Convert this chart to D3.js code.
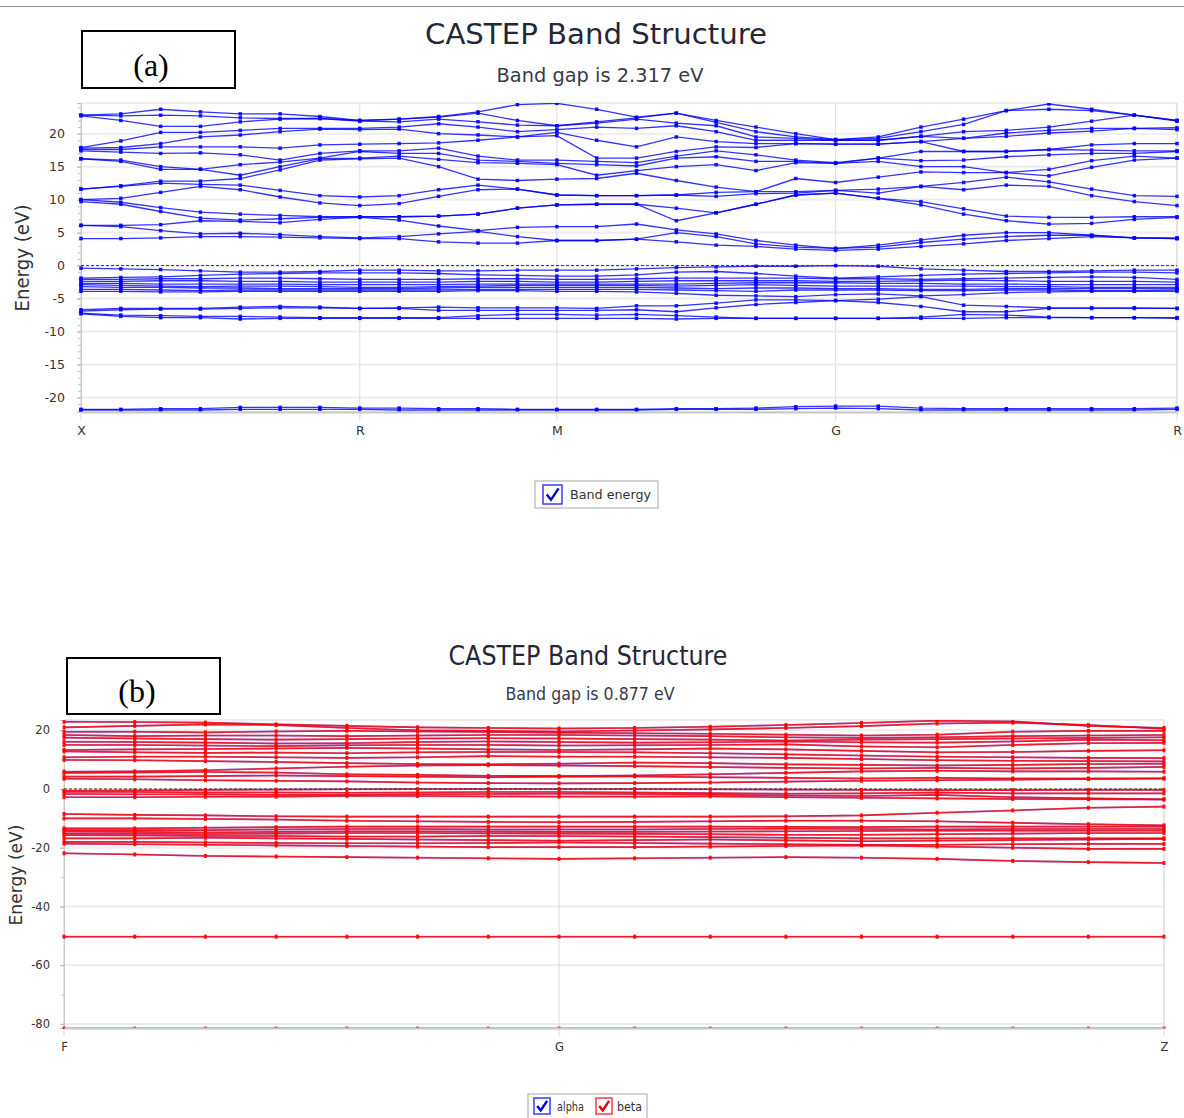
<!DOCTYPE html>
<html>
<head>
<meta charset="utf-8">
<script src="https://cdn.jsdelivr.net/npm/d3@7"></script>
<style>
  body { margin: 0; background: #fff; }
  svg { display: block; font-family: 'DejaVu Sans', sans-serif; }
</style>
</head>
<body>
<svg id="chart" width="1184" height="1118"></svg>
<script>
// ---- panel (a): k-path X-R-M-G-R ----
const topLabels = ['X', 'R', 'M', 'G', 'R']
const topSegLengths = [0.7071, 0.5, 0.7071, 0.866]
const topSegSteps = [7, 5, 7, 8]
const topYTicks = [-20, -15, -10, -5, 0, 5, 10, 15, 20]

// conduction bands, one row per k-point (sorted energies, eV)
const topConductionByK = [
  [4.1, 6.1, 6.1, 9.7, 10.0, 10.0, 11.6, 11.6, 16.2, 16.2, 17.4, 17.6, 17.8, 17.9, 22.7, 22.8, 22.8],
  [4.1, 5.9, 6.1, 9.3, 9.6, 10.2, 12.0, 12.1, 15.8, 16.0, 17.2, 17.6, 17.9, 18.9, 22.0, 22.7, 23.0],
  [4.2, 5.3, 6.2, 8.2, 8.8, 11.1, 12.5, 12.8, 14.6, 15.0, 17.0, 18.0, 18.5, 20.2, 21.1, 22.8, 23.7],
  [4.4, 4.8, 6.8, 7.2, 8.1, 12.0, 12.3, 12.8, 14.6, 14.6, 17.1, 18.0, 19.5, 20.2, 21.1, 22.7, 23.3],
  [4.4, 4.9, 6.7, 6.9, 7.8, 11.5, 12.2, 13.2, 13.7, 15.3, 16.8, 18.0, 19.8, 20.5, 21.8, 22.4, 23.0],
  [4.3, 4.7, 6.5, 7.1, 7.6, 10.4, 11.4, 14.5, 15.0, 15.7, 16.0, 17.8, 20.3, 20.8, 22.2, 22.3, 23.0],
  [4.2, 4.4, 7.0, 7.3, 7.4, 9.5, 10.6, 16.0, 16.2, 16.3, 17.0, 18.3, 20.7, 20.8, 22.3, 22.3, 22.6],
  [4.1, 4.2, 7.3, 7.4, 7.4, 9.1, 10.4, 16.2, 16.3, 17.3, 17.4, 18.4, 20.6, 20.8, 21.9, 22.0, 22.0],
  [4.1, 4.4, 6.9, 7.4, 7.4, 9.4, 10.6, 16.3, 16.6, 17.0, 17.4, 18.5, 20.7, 21.0, 21.8, 22.2, 22.2],
  [3.6, 4.8, 6.0, 7.5, 7.5, 10.5, 11.5, 15.0, 16.1, 17.0, 17.8, 18.6, 20.0, 21.5, 22.2, 22.5, 22.6],
  [3.4, 5.2, 5.3, 7.8, 7.8, 11.5, 12.2, 13.1, 15.6, 16.0, 16.6, 19.0, 19.8, 21.0, 21.8, 23.1, 23.3],
  [3.4, 4.4, 5.8, 8.7, 8.7, 11.6, 11.6, 12.9, 15.5, 15.8, 16.0, 19.5, 19.5, 20.3, 21.3, 22.0, 24.4],
  [3.8, 3.8, 5.9, 9.2, 9.2, 10.7, 10.7, 13.1, 15.3, 15.5, 16.0, 19.7, 20.2, 20.6, 21.2, 21.2, 24.6],
  [3.8, 3.8, 5.9, 9.3, 9.3, 10.6, 10.6, 13.2, 13.7, 15.3, 15.8, 16.3, 19.0, 21.0, 21.6, 21.8, 23.7],
  [4.0, 4.0, 6.3, 9.3, 9.3, 10.6, 10.6, 14.0, 14.4, 15.1, 15.6, 16.3, 18.0, 20.8, 22.2, 22.4, 22.5],
  [3.6, 5.0, 5.4, 6.8, 8.7, 10.7, 10.7, 12.9, 15.0, 16.3, 16.6, 17.3, 19.5, 21.2, 21.6, 23.1, 23.1],
  [3.1, 4.4, 4.8, 8.0, 8.0, 10.5, 11.1, 11.9, 15.3, 16.5, 17.4, 18.0, 18.8, 20.3, 21.2, 21.7, 22.0],
  [2.9, 3.3, 3.8, 9.3, 9.3, 10.9, 11.2, 11.2, 14.4, 15.8, 16.8, 17.9, 18.5, 19.0, 19.5, 20.3, 21.0],
  [2.5, 2.8, 3.1, 10.7, 10.7, 11.0, 11.2, 13.2, 15.6, 15.8, 16.0, 18.5, 18.5, 19.0, 19.3, 19.5, 20.0],
  [2.3, 2.6, 2.6, 11.0, 11.0, 11.4, 11.4, 12.6, 15.5, 15.5, 15.6, 18.4, 18.4, 19.0, 19.0, 19.1, 19.1],
  [2.5, 2.8, 3.1, 10.2, 10.2, 11.0, 11.6, 13.4, 15.8, 16.3, 16.3, 18.4, 18.4, 19.0, 19.0, 19.3, 19.5],
  [2.9, 3.5, 3.9, 9.2, 9.7, 12.0, 12.0, 14.2, 15.0, 15.9, 17.3, 18.8, 18.8, 19.6, 19.6, 20.3, 21.0],
  [3.3, 4.0, 4.6, 7.8, 8.6, 11.5, 12.6, 14.1, 15.0, 16.0, 17.3, 17.3, 19.3, 19.3, 20.3, 21.4, 22.2],
  [3.8, 4.4, 5.0, 6.8, 7.5, 12.2, 13.4, 14.1, 14.1, 16.5, 17.3, 17.3, 19.6, 20.1, 20.5, 23.5, 23.5],
  [4.1, 4.6, 5.0, 6.3, 7.3, 12.0, 12.7, 13.6, 14.6, 16.8, 17.6, 17.6, 20.1, 20.5, 21.0, 23.7, 24.5],
  [4.4, 4.6, 4.6, 6.4, 7.3, 10.6, 11.6, 14.9, 15.9, 17.0, 17.5, 18.3, 20.4, 20.8, 21.9, 23.5, 23.7],
  [4.2, 4.2, 4.2, 7.0, 7.4, 9.7, 10.6, 16.0, 16.6, 17.0, 17.4, 18.5, 20.8, 20.8, 22.8, 22.8, 22.8],
  [4.1, 4.1, 4.2, 7.3, 7.4, 9.1, 10.5, 16.3, 16.3, 17.3, 17.4, 18.5, 20.6, 20.9, 21.9, 22.0, 22.0]
]

// valence bands, one array per band
const topValence = [
  [-0.4, -0.5, -0.6, -0.8, -1.0, -1.0, -0.9, -0.7, -0.7, -0.8, -0.8, -0.7, -0.7, -0.7, -0.5, -0.3, -0.2, -0.1, -0.1, 0.0, -0.1, -0.5, -0.7, -0.9, -0.9, -0.8, -0.7, -0.7],
  [-1.9, -1.8, -1.7, -1.5, -1.3, -1.2, -1.1, -1.1, -1.1, -1.2, -1.4, -1.5, -1.6, -1.6, -1.4, -1.0, -0.9, -1.2, -1.6, -1.9, -1.7, -1.5, -1.3, -1.2, -1.1, -1.0, -1.0, -1.1],
  [-2.1, -2.1, -2.0, -2.0, -1.9, -1.9, -2.0, -2.1, -2.1, -2.1, -2.0, -2.0, -2.1, -2.1, -2.0, -1.9, -1.9, -1.9, -1.9, -2.0, -2.0, -2.1, -2.0, -1.9, -1.8, -1.7, -1.8, -2.1],
  [-2.4, -2.4, -2.3, -2.3, -2.4, -2.4, -2.5, -2.5, -2.5, -2.5, -2.4, -2.4, -2.5, -2.5, -2.4, -2.3, -2.3, -2.3, -2.3, -2.4, -2.4, -2.3, -2.2, -2.3, -2.4, -2.4, -2.4, -2.5],
  [-2.7, -2.7, -2.8, -2.8, -2.8, -2.8, -2.9, -2.9, -2.9, -2.9, -2.8, -2.8, -2.8, -2.8, -2.8, -2.8, -2.7, -2.6, -2.6, -2.6, -2.7, -2.7, -2.8, -2.8, -2.9, -2.9, -2.9, -2.9],
  [-2.9, -3.0, -3.1, -3.2, -3.1, -3.1, -3.2, -3.3, -3.3, -3.2, -3.1, -3.0, -3.0, -3.0, -3.0, -3.1, -3.0, -2.9, -3.0, -3.1, -3.1, -3.1, -3.1, -3.2, -3.2, -3.3, -3.3, -3.3],
  [-3.2, -3.3, -3.3, -3.4, -3.4, -3.5, -3.5, -3.5, -3.5, -3.4, -3.3, -3.3, -3.3, -3.3, -3.3, -3.4, -3.5, -3.4, -3.4, -3.5, -3.5, -3.6, -3.6, -3.5, -3.5, -3.5, -3.5, -3.5],
  [-3.6, -3.6, -3.7, -3.8, -3.7, -3.7, -3.7, -3.7, -3.7, -3.7, -3.6, -3.6, -3.6, -3.6, -3.6, -3.7, -3.8, -3.9, -3.7, -3.7, -3.7, -3.8, -3.8, -3.7, -3.7, -3.8, -3.8, -3.7],
  [-3.9, -3.9, -4.0, -4.0, -3.9, -3.9, -3.9, -3.9, -3.9, -3.9, -3.8, -3.8, -3.9, -3.9, -4.0, -4.2, -4.5, -4.6, -4.7, -4.4, -4.3, -4.6, -4.4, -4.1, -4.0, -3.9, -3.9, -3.9]
]

const topSemicore = [
  [-6.7, -6.5, -6.5, -6.5, -6.3, -6.2, -6.3, -6.5, -6.4, -6.3, -6.4, -6.4, -6.4, -6.5, -6.1, -6.1, -5.7, -5.2, -5.2, -5.3, -5.1, -4.7, -6.0, -6.2, -6.4, -6.4, -6.4, -6.5],
  [-6.9, -6.7, -6.6, -6.6, -6.5, -6.4, -6.4, -6.5, -6.5, -6.8, -6.8, -6.8, -6.8, -6.8, -6.7, -7.0, -6.4, -5.9, -5.6, -5.3, -5.6, -6.2, -7.0, -7.0, -6.5, -6.5, -6.5, -6.5],
  [-7.2, -7.5, -7.6, -7.7, -7.7, -7.8, -7.9, -7.9, -7.9, -7.9, -7.6, -7.4, -7.4, -7.5, -7.4, -7.6, -7.8, -8.0, -8.0, -8.0, -8.0, -7.8, -7.4, -7.5, -7.8, -7.9, -7.9, -7.9],
  [-7.3, -7.7, -7.9, -7.9, -8.1, -8.0, -8.0, -8.0, -8.0, -8.0, -8.0, -8.0, -8.0, -8.0, -8.0, -8.1, -8.0, -8.0, -8.0, -8.0, -8.0, -8.0, -8.0, -7.9, -7.9, -7.9, -7.9, -8.0],
  [-21.9, -21.9, -21.9, -21.9, -21.8, -21.8, -21.8, -21.8, -21.9, -21.9, -21.9, -21.9, -21.9, -21.9, -21.9, -21.8, -21.8, -21.8, -21.7, -21.6, -21.7, -21.9, -21.9, -21.9, -21.9, -21.9, -21.9, -21.8],
  [-21.8, -21.8, -21.7, -21.7, -21.5, -21.5, -21.5, -21.6, -21.6, -21.7, -21.7, -21.8, -21.8, -21.8, -21.8, -21.7, -21.7, -21.6, -21.4, -21.3, -21.3, -21.6, -21.7, -21.7, -21.7, -21.7, -21.7, -21.6]
]

// ---- panel (b): k-path F-G-Z, spin up (alpha) and down (beta) ----
const botLabels = ['F', 'G', 'Z']
const botSegLengths = [0.45, 0.55]
const botSegSteps = [7, 8]
const botYTicks = [-80, -60, -40, -20, 0, 20]

const botBands = [
  [22.9, 22.8, 22.6, 22.0, 21.5, 21.0, 20.8, 20.6, 20.8, 21.2, 21.8, 22.5, 23.3, 23.0, 21.5, 20.8],
  [21.0, 21.5, 22.0, 21.8, 20.8, 20.0, 19.8, 19.6, 19.9, 20.3, 20.8, 21.4, 22.3, 22.6, 21.8, 20.5],
  [19.5, 19.5, 19.3, 19.6, 19.8, 19.6, 19.4, 19.2, 19.0, 18.8, 18.5, 18.2, 18.5, 19.5, 19.8, 19.8],
  [18.4, 18.0, 18.2, 18.2, 18.0, 18.2, 18.4, 18.4, 18.2, 18.0, 17.6, 17.4, 17.6, 18.0, 18.2, 18.4],
  [17.5, 17.2, 17.0, 16.8, 17.0, 17.2, 17.3, 17.2, 17.0, 16.8, 16.5, 16.8, 17.0, 17.2, 17.4, 17.6],
  [16.1, 16.0, 15.8, 15.5, 15.6, 16.0, 16.2, 16.0, 15.8, 15.9, 16.2, 15.9, 15.8, 16.2, 16.8, 16.6],
  [15.0, 15.0, 14.8, 14.6, 14.9, 15.0, 15.0, 14.8, 14.9, 15.0, 15.2, 14.5, 14.2, 15.0, 15.6, 15.7],
  [13.3, 13.5, 13.6, 13.8, 14.0, 13.8, 13.5, 13.3, 13.5, 13.8, 13.5, 13.0, 12.5, 12.6, 13.0, 13.2],
  [12.8, 12.5, 12.3, 12.4, 12.2, 12.5, 12.6, 12.6, 12.5, 12.2, 11.8, 11.4, 11.0, 10.8, 10.6, 10.5],
  [10.8, 11.0, 11.0, 10.8, 10.6, 10.8, 11.2, 11.0, 11.0, 10.8, 10.6, 10.2, 9.8, 9.6, 9.5, 9.4],
  [9.9, 9.8, 9.5, 9.2, 8.8, 8.5, 8.4, 8.6, 9.0, 8.8, 8.4, 8.2, 8.0, 8.2, 8.5, 8.6],
  [5.9, 6.0, 6.4, 7.0, 7.6, 8.0, 8.1, 8.0, 7.8, 7.5, 7.2, 7.0, 7.2, 7.0, 7.2, 7.5],
  [5.5, 5.6, 5.8, 5.6, 5.0, 4.8, 4.5, 4.4, 4.6, 5.0, 5.5, 6.0, 6.2, 6.0, 6.0, 5.9],
  [4.2, 4.2, 4.4, 4.6, 4.4, 4.2, 4.0, 4.2, 4.3, 4.0, 3.8, 3.6, 3.8, 3.6, 3.6, 3.6],
  [3.5, 3.3, 3.0, 2.8, 2.6, 2.2, 2.0, 1.9, 2.0, 2.2, 2.5, 2.8, 3.0, 3.2, 3.4, 3.6],
  [-0.6, -0.5, -0.3, -0.2, -0.1, 0.0, 0.0, 0.0, 0.0, -0.1, -0.2, -0.3, -0.4, -0.4, -0.3, -0.3],
  [-1.0, -1.0, -1.2, -1.2, -1.3, -1.2, -1.0, -1.0, -1.2, -1.4, -1.6, -1.5, -1.2, -1.5, -1.5, -1.5],
  [-1.7, -1.8, -1.8, -2.0, -2.0, -1.8, -1.7, -1.6, -1.7, -1.9, -2.2, -2.4, -2.0, -2.8, -3.2, -3.5],
  [-2.8, -2.8, -2.6, -2.6, -2.4, -2.4, -2.5, -2.6, -2.6, -2.5, -2.8, -3.0, -3.2, -3.4, -3.5, -3.6],
  [-8.5, -8.8, -9.0, -9.3, -9.4, -9.4, -9.4, -9.4, -9.4, -9.4, -9.3, -9.0, -8.1, -7.3, -6.4, -6.0],
  [-10.0, -10.0, -10.2, -10.4, -10.8, -11.0, -11.2, -11.3, -11.2, -11.0, -10.8, -10.8, -11.0, -11.5, -12.0, -12.4],
  [-13.4, -13.4, -13.2, -13.0, -12.8, -12.8, -12.8, -12.8, -12.8, -12.8, -12.9, -13.0, -12.8, -12.8, -12.8, -12.8],
  [-14.0, -14.0, -14.0, -13.8, -13.6, -13.6, -13.8, -13.8, -13.8, -13.6, -13.5, -13.6, -13.8, -13.6, -13.6, -13.6],
  [-14.5, -14.6, -14.8, -14.6, -14.4, -14.4, -14.5, -14.6, -14.6, -14.5, -14.4, -14.3, -14.2, -14.2, -14.2, -14.2],
  [-15.2, -15.2, -15.4, -15.2, -15.0, -15.0, -15.1, -15.2, -15.3, -15.4, -15.6, -15.6, -15.4, -15.2, -15.0, -15.0],
  [-15.7, -15.8, -16.0, -16.0, -16.2, -16.2, -16.0, -16.0, -16.2, -16.4, -16.6, -16.8, -16.8, -16.8, -16.8, -16.8],
  [-16.8, -16.8, -16.6, -16.8, -17.0, -17.2, -17.4, -17.6, -17.4, -17.2, -17.5, -17.8, -17.6, -17.4, -17.2, -17.0],
  [-18.0, -18.0, -18.2, -18.4, -18.5, -18.5, -18.4, -18.2, -18.4, -18.6, -18.8, -19.0, -19.0, -18.8, -18.7, -18.7],
  [-18.6, -18.8, -19.0, -19.2, -19.4, -19.6, -19.8, -19.8, -19.8, -19.6, -19.4, -19.2, -19.6, -20.0, -20.4, -20.4],
  [-21.9, -22.3, -22.8, -23.0, -23.2, -23.4, -23.6, -23.8, -23.6, -23.4, -23.2, -23.4, -23.8, -24.5, -24.9, -25.2],
  [-50.3, -50.3, -50.3, -50.3, -50.3, -50.3, -50.3, -50.3, -50.3, -50.3, -50.3, -50.3, -50.3, -50.3, -50.3, -50.3],
  [-81.6, -81.6, -81.6, -81.6, -81.6, -81.6, -81.6, -81.6, -81.6, -81.6, -81.6, -81.6, -81.6, -81.6, -81.6, -81.6]
]

const svg = d3.select('#chart')

// thin rule across the top
svg.append('line')
  .attr('x1', 0).attr('x2', 1184).attr('y1', 6.5).attr('y2', 6.5)
  .attr('stroke', '#8a8a8a').attr('stroke-width', 1)

// k-point positions along the path (equal steps per segment)
const kPath = (lengths, steps) => {
  const ks = [0], ticks = [0]
  let start = 0
  lengths.forEach((len, i) => {
    for (let j = 1; j <= steps[i]; j++) ks.push(start + len * j / steps[i])
    start += len
    ticks.push(start)
  })
  return { ks, ticks }
}

let clipId = 0

const drawPanel = o => {
  const { ks, ticks } = kPath(o.segLengths, o.segSteps)
  const x = d3.scaleLinear().domain([0, d3.sum(o.segLengths)]).range([o.left, o.right])
  const y = d3.scaleLinear().domain(o.yDomain).range([o.bottom, o.top])
  const g = svg.append('g')

  // label box
  g.append('rect')
    .attr('x', o.tag.x).attr('y', o.tag.y).attr('width', o.tag.w).attr('height', o.tag.h)
    .attr('fill', 'none').attr('stroke', '#000').attr('stroke-width', 2)
  g.append('text')
    .attr('x', o.tag.tx).attr('y', o.tag.y + o.tag.h - 12)
    .attr('text-anchor', 'middle')
    .style('font-family', "'Liberation Serif', serif").style('font-size', '32px')
    .text(o.tag.text)

  // titles
  g.append('text')
    .attr('x', o.titleX).attr('y', o.titleY).attr('text-anchor', 'middle')
    .attr('textLength', o.titleW).attr('lengthAdjust', 'spacingAndGlyphs')
    .style('font-size', o.titleSize + 'px').attr('fill', '#262636')
    .text('CASTEP Band Structure')
  g.append('text')
    .attr('x', o.subX).attr('y', o.subY).attr('text-anchor', 'middle')
    .attr('textLength', o.subW).attr('lengthAdjust', 'spacingAndGlyphs')
    .style('font-size', o.subSize + 'px').attr('fill', '#3a3a48')
    .text(o.subtitle)

  // grid
  g.append('g').selectAll('line').data(o.yTicks).enter().append('line')
    .attr('x1', o.left).attr('x2', o.right)
    .attr('y1', d => y(d)).attr('y2', d => y(d))
    .attr('stroke', '#ededed').attr('stroke-width', 2)
  g.append('g').selectAll('line').data(ticks).enter().append('line')
    .attr('x1', d => x(d)).attr('x2', d => x(d))
    .attr('y1', o.top).attr('y2', o.bottom + 8)
    .attr('stroke', '#e2e2e2').attr('stroke-width', 1.2)
  g.append('rect')
    .attr('x', o.left).attr('y', o.top)
    .attr('width', o.right - o.left).attr('height', o.bottom - o.top)
    .attr('fill', 'none').attr('stroke', '#dcdcdc')

  // y axis: major + minor ticks
  const minor = g.append('g').attr('transform', `translate(${o.left},0)`)
    .call(d3.axisLeft(y).tickValues(d3.range(o.minor[0], o.minor[1] + 0.01, o.minor[2]))
      .tickSize(3).tickFormat(''))
  minor.select('.domain').remove()
  minor.selectAll('line').attr('stroke', '#c4c4c4')
  const yAx = g.append('g').attr('transform', `translate(${o.left},0)`)
    .call(d3.axisLeft(y).tickValues(o.yTicks).tickSize(4).tickPadding(o.yPad)
      .tickFormat(d => String(d)))
  yAx.select('.domain').attr('stroke', '#c8c8c8')
  yAx.selectAll('line').attr('stroke', '#b8b8b8')
  yAx.selectAll('text').style('font-size', o.tickSize + 'px')
    .style('font-family', "'DejaVu Sans', sans-serif").attr('fill', '#333')

  g.append('text')
    .attr('transform', `translate(${o.yLabelX},${o.yLabelY}) rotate(-90)`)
    .attr('text-anchor', 'middle')
    .attr('textLength', o.yLabelW).attr('lengthAdjust', 'spacingAndGlyphs')
    .style('font-size', o.yLabelSize + 'px').attr('fill', '#333')
    .text('Energy (eV)')

  // bands
  const id = 'clip' + (clipId++)
  svg.append('clipPath').attr('id', id).append('rect')
    .attr('x', o.left - 2).attr('y', o.top).attr('width', o.right - o.left + 4)
    .attr('height', o.bottom - o.top + 1)
  const plot = g.append('g').attr('clip-path', `url(#${id})`)
  const line = d3.line().x((d, i) => x(ks[i])).y(d => y(d))

  o.series.forEach(s => {
    plot.append('g').selectAll('path').data(s.bands).enter().append('path')
      .attr('d', line).attr('fill', 'none')
      .attr('stroke', s.color).attr('stroke-width', s.width).attr('stroke-opacity', s.opacity)
  })

  // fermi level
  plot.append('line')
    .attr('x1', o.left).attr('x2', o.right).attr('y1', y(0)).attr('y2', y(0))
    .attr('stroke', '#333').attr('stroke-dasharray', '3,2')

  const dots = o.series[o.series.length - 1]
  const pts = dots.bands.flatMap(b => b.map((v, i) => [ks[i], v]))
  plot.append('g').selectAll('rect').data(pts).enter().append('rect')
    .attr('x', d => x(d[0]) - o.dot[0] / 2).attr('y', d => y(d[1]) - o.dot[1] / 2)
    .attr('width', o.dot[0]).attr('height', o.dot[1])
    .attr('fill', dots.color).attr('fill-opacity', 0.9)

  // x axis with symmetry labels, drawn over the bands
  const xAx = g.append('g').attr('transform', `translate(0,${o.bottom})`)
    .call(d3.axisBottom(x).tickValues(ticks).tickSize(0).tickPadding(o.xPad)
      .tickFormat((d, i) => o.labels[i]))
  xAx.select('.domain').attr('stroke', '#c8c8c8').attr('stroke-width', 2)
  xAx.selectAll('text').style('font-size', o.tickSize + 'px')
    .style('font-family', "'DejaVu Sans', sans-serif").attr('fill', '#333')

  // legend
  const lg = g.append('g')
  lg.append('rect')
    .attr('x', o.legend.x).attr('y', o.legend.y).attr('width', o.legend.w).attr('height', o.legend.h)
    .attr('fill', '#fff').attr('stroke', '#c4c4c4').attr('stroke-width', 1.5)
  o.legend.items.forEach(it => {
    lg.append('rect')
      .attr('x', it.x).attr('y', it.y).attr('width', it.s).attr('height', it.s)
      .attr('fill', '#fff').attr('stroke', it.color).attr('stroke-width', 1.5)
    lg.append('path')
      .attr('d', `M${it.x + it.s * 0.2},${it.y + it.s * 0.5} L${it.x + it.s * 0.42},${it.y + it.s * 0.78} L${it.x + it.s * 0.82},${it.y + it.s * 0.18}`)
      .attr('fill', 'none').attr('stroke', it.check).attr('stroke-width', 2.4)
    lg.append('text')
      .attr('x', it.tx).attr('y', it.ty).attr('textLength', it.tw).attr('lengthAdjust', 'spacingAndGlyphs')
      .style('font-size', it.fs + 'px').attr('fill', '#333').text(it.text)
  })
}

drawPanel({
  left: 81, right: 1177, top: 103, bottom: 412,
  yDomain: [-22.2, 24.65], yTicks: topYTicks, minor: [-22, 24, 1],
  segLengths: topSegLengths, segSteps: topSegSteps, labels: topLabels,
  tickSize: 12.5, yPad: 12, xPad: 14,
  tag: { x: 82, y: 31, w: 153, h: 57, tx: 151, text: '(a)' },
  titleX: 596, titleY: 44, titleW: 342, titleSize: 29,
  subtitle: 'Band gap is 2.317 eV', subX: 600, subY: 82, subW: 207, subSize: 19,
  yLabelX: 29, yLabelY: 258, yLabelW: 107, yLabelSize: 19,
  dot: [3.5, 3.5],
  series: [
    { bands: d3.transpose(topConductionByK).concat(topValence, topSemicore), color: '#0000ff', width: 1.3, opacity: 0.8 }
  ],
  legend: {
    x: 535, y: 481, w: 123, h: 27,
    items: [{ x: 543, y: 485, s: 19, color: '#3a3aff', check: '#0000cc', tx: 570, ty: 499, tw: 81, fs: 13, text: 'Band energy' }]
  }
})

drawPanel({
  left: 64, right: 1164, top: 720, bottom: 1028,
  yDomain: [-81.4, 23.5], yTicks: botYTicks, minor: [-80, 20, 10],
  segLengths: botSegLengths, segSteps: botSegSteps, labels: botLabels,
  tickSize: 11.5, yPad: 10, xPad: 15,
  tag: { x: 67, y: 658, w: 153, h: 56, tx: 137, text: '(b)' },
  titleX: 588, titleY: 665, titleW: 279, titleSize: 27,
  subtitle: 'Band gap is 0.877 eV', subX: 590, subY: 700, subW: 169, subSize: 18,
  yLabelX: 22, yLabelY: 875, yLabelW: 101, yLabelSize: 18,
  dot: [3, 4],
  series: [
    { bands: botBands, color: '#2020ff', width: 1.8, opacity: 0.45 },
    { bands: botBands, color: '#ff0000', width: 1.6, opacity: 0.82 }
  ],
  legend: {
    x: 528, y: 1094, w: 119, h: 26,
    items: [
      { x: 534, y: 1098, s: 16, color: '#3a3aff', check: '#0000cc', tx: 557, ty: 1111, tw: 27, fs: 12, text: 'alpha' },
      { x: 596, y: 1098, s: 16, color: '#ff3a3a', check: '#e00000', tx: 617, ty: 1111, tw: 25, fs: 12, text: 'beta' }
    ]
  }
})
</script>
</body>
</html>
